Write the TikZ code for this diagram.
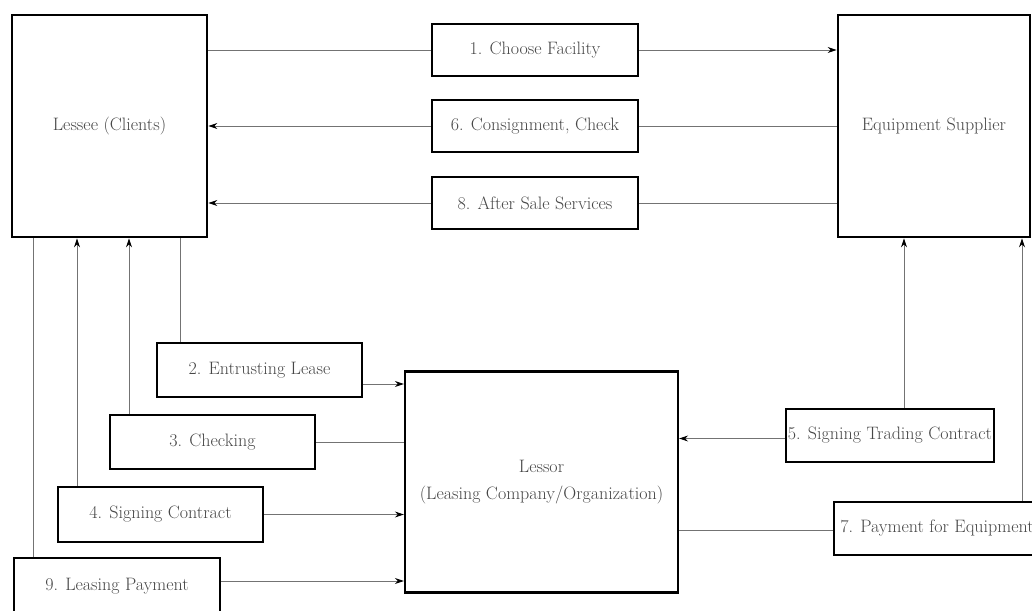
\documentclass[tikz,border=0pt]{standalone}
\usetikzlibrary{arrows.meta}
\begin{document}
\begin{tikzpicture}[x=1pt,y=-1pt,
  box/.style={draw=black, line width=2.7pt, fill=white, inner sep=0pt, align=center,
    text=black!72, font=\fontsize{18}{27}\selectfont},
  conn/.style={draw=black!55, line width=0.9pt},
  arr/.style={conn, -{Stealth[length=9pt,width=6pt,black]}}]
\useasboundingbox (0,0) rectangle (1032,610);
\clip (0,0) rectangle (1032,610);
\fill[white] (0,0) rectangle (1032,610);

% main boxes
\node[box, minimum width=195pt, minimum height=222pt] (lessee) at (109.5,126) {Lessee (Clients)};
\node[box, minimum width=192pt, minimum height=222pt] (supplier) at (934,126) {Equipment Supplier};
\node[box, line width=2.2pt, minimum width=273pt, minimum height=221pt] (lessor) at (541.5,482) {Lessor\\(Leasing Company/Organization)};

% step boxes
\node[box, minimum width=206pt, minimum height=52pt] (c1) at (535,50) {1. Choose Facility};
\node[box, minimum width=206pt, minimum height=52pt] (c6) at (535,126) {6. Consignment, Check};
\node[box, minimum width=206pt, minimum height=52pt] (c8) at (535,203) {8. After Sale Services};
\node[box, minimum width=205pt, minimum height=54pt] (c2) at (259.5,370) {2. Entrusting Lease};
\node[box, minimum width=205pt, minimum height=54pt] (c3) at (212.5,442) {3. Checking};
\node[box, minimum width=205pt, minimum height=55pt] (c4) at (160.5,514.5) {4. Signing Contract};
\node[box, line width=1.8pt, minimum width=206pt, minimum height=56pt] (c9) at (117,586) {9. Leasing Payment};
\node[box, minimum width=208pt, minimum height=53pt] (c5) at (890,435.5) {5. Signing Trading Contract};
\node[box, line width=1.8pt, minimum width=206pt, minimum height=53pt] (c7) at (937,528.5) {7. Payment for Equipment};

% x positions of vertical connectors
\coordinate (v9) at (33,0);
\coordinate (v4) at (77,0);
\coordinate (v3) at (129,0);
\coordinate (v2) at (180,0);
\coordinate (v5) at (904,0);
\coordinate (v7) at (1022,0);

% top row
\draw[conn] (lessee.east |- c1.west) -- (c1.west);
\draw[arr] (c1.east) -- (supplier.west |- c1.east);
\draw[conn] (supplier.west |- c6.east) -- (c6.east);
\draw[arr] (c6.west) -- (lessee.east |- c6.west);
\draw[conn] (supplier.west |- c8.east) -- (c8.east);
\draw[arr] (c8.west) -- (lessee.east |- c8.west);

% lessee verticals
\draw[conn] (lessee.south -| v9) -- (c9.north -| v9);
\draw[arr] (c4.north -| v4) -- (lessee.south -| v4);
\draw[arr] (c3.north -| v3) -- (lessee.south -| v3);
\draw[conn] (lessee.south -| v2) -- (c2.north -| v2);

% to lessor (left)
\coordinate (a2) at ([yshift=-14pt]c2.east);
\draw[arr] (a2) -- (lessor.west |- a2);
\draw[conn] (c3.east) -- (lessor.west |- c3.east);
\draw[arr] (c4.east) -- (lessor.west |- c4.east);
\coordinate (a9) at ([yshift=5pt]c9.east);
\draw[arr] (a9) -- (lessor.west |- a9);

% right side
\coordinate (a5) at ([yshift=-3pt]c5.west);
\draw[arr] (a5) -- (lessor.east |- a5);
\coordinate (a7) at ([yshift=-2pt]c7.west);
\draw[conn] (lessor.east |- a7) -- (a7);
\draw[arr] (c5.north -| v5) -- (supplier.south -| v5);
\draw[arr] (c7.north -| v7) -- (supplier.south -| v7);
\end{tikzpicture}
\end{document}
